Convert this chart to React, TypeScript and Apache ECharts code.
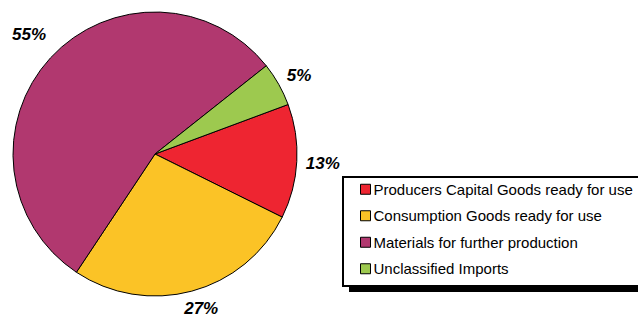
import React, { useEffect, useRef } from "react";
import * as echarts from "echarts";

const categories = [
  "Producers Capital Goods ready for use",
  "Consumption Goods ready for use",
  "Materials for further production",
  "Unclassified Imports",
];
const values = [13, 27, 55, 5];
const colors = ["#EE2531", "#FBC326", "#B1386F", "#9DC94F"];

export default function App() {
  const ref = useRef<HTMLDivElement>(null);
  useEffect(() => {
    const chart = echarts.init(ref.current!, null, { renderer: "svg" });
    const data = categories.map((name, i) => ({
      name,
      value: values[i],
      itemStyle: { color: colors[i] },
    }));
    const nudges: Record<number, [number, number]> = { 0: [5, 1], 1: [4, -3], 2: [-6, -9], 3: [2, 2] };
    chart.setOption({
      animation: false,
      graphic: [
        { type: "rect", shape: { x: 349, y: 183, width: 300, height: 109 }, style: { fill: "#000" }, z: 0 },
        { type: "rect", shape: { x: 343, y: 177, width: 300, height: 109 }, style: { fill: "#fff", stroke: "#000", lineWidth: 2 }, z: 1 },
      ],
      legend: {
        orient: "vertical",
        left: 360,
        top: 181,
        padding: 0,
        itemWidth: 10,
        itemHeight: 10,
        itemGap: 10,
        icon: "rect",
        z: 5,
        itemStyle: { borderColor: "#000", borderWidth: 1 },
        textStyle: { fontFamily: "Liberation Sans, Arial, sans-serif", fontSize: 15, color: "#000", lineHeight: 16.5, padding: [0, 0, 0, -2] },
        data: categories,
      },
      series: [
        {
          type: "pie",
          center: [155, 154],
          radius: 142,
          startAngle: 20.4,
          clockwise: true,
          data,
          label: { show: false },
          labelLine: { show: false },
          itemStyle: { borderColor: "#000", borderWidth: 1 },
          emphasis: { disabled: true },
        },
        {
          type: "pie",
          center: [155, 154],
          radius: [145, 175],
          startAngle: 20.4,
          clockwise: true,
          silent: true,
          legendHoverLink: false,
          data: categories.map((name, i) => ({ name: name + " ", value: values[i] })),
          itemStyle: { color: "rgba(0,0,0,0)" },
          label: {
            show: true,
            position: "inside",
            formatter: (p: any) => p.value + "%",
            fontFamily: "Liberation Sans, Arial, sans-serif",
            fontSize: 17,
            fontWeight: "bold",
            fontStyle: "italic",
            color: "#000",
          },
          labelLayout: (p: any) => {
            const n = nudges[p.dataIndex] || [0, 0];
            return { dx: n[0], dy: n[1] };
          },
          labelLine: { show: false },
          emphasis: { disabled: true },
        },
      ],
    });
    return () => chart.dispose();
  }, []);
  return <div ref={ref} style={{ position: "absolute", left: 0, top: 0, width: 638, height: 317 }} />;
}
